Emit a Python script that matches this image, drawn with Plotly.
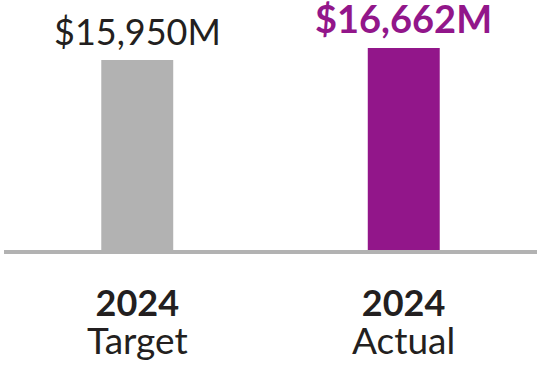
import plotly.graph_objects as go

categories = ["Target", "Actual"]
years = ["2024", "2024"]
values = [15950, 16662]
labels = ["$15,950M", "$16,662M"]
colors = ["#b2b2b2", "#92168a"]
label_colors = ["#231f20", "#92168a"]
label_weights = ["normal", "bold"]
label_sizes = [36, 38]

FONT = "Lato"

fig = go.Figure()
fig.add_trace(go.Bar(
    x=categories, y=values, marker=dict(color=colors, line=dict(width=0)),
    width=0.27, hoverinfo="skip", showlegend=False,
))

for c, v, t, col, w, s in zip(categories, values, labels, label_colors, label_weights, label_sizes):
    fig.add_annotation(x=c, y=v, xref="x", yref="y", text=t, showarrow=False,
                       yanchor="bottom", yshift=6, borderpad=0,
                       font=dict(family=FONT, size=s, color=col, weight=w))

for c, yr in zip(categories, years):
    txt = ('<span style="font-size:36px"><b>' + yr + '</b></span><br>'
           '<span style="font-size:37px">' + c + '</span>')
    fig.add_annotation(x=c, y=0, xref="x", yref="paper", text=txt,
                       showarrow=False, yanchor="middle", yshift=-71, borderpad=0,
                       font=dict(family=FONT, size=29, color="#231f20"))

fig.update_layout(
    width=540, height=370,
    margin=dict(l=4, r=3, t=0, b=120),
    paper_bgcolor="white", plot_bgcolor="white",
    xaxis=dict(showline=True, linecolor="#b2b2b2", linewidth=4, showticklabels=False,
               ticks="", showgrid=False, zeroline=False, range=[-0.5, 1.5]),
    yaxis=dict(range=[4677, 19510], visible=False, showgrid=False, zeroline=False),
)

fig.write_html("out.html", config={"displayModeBar": False},
               post_script="document.body.style.margin='0';")
